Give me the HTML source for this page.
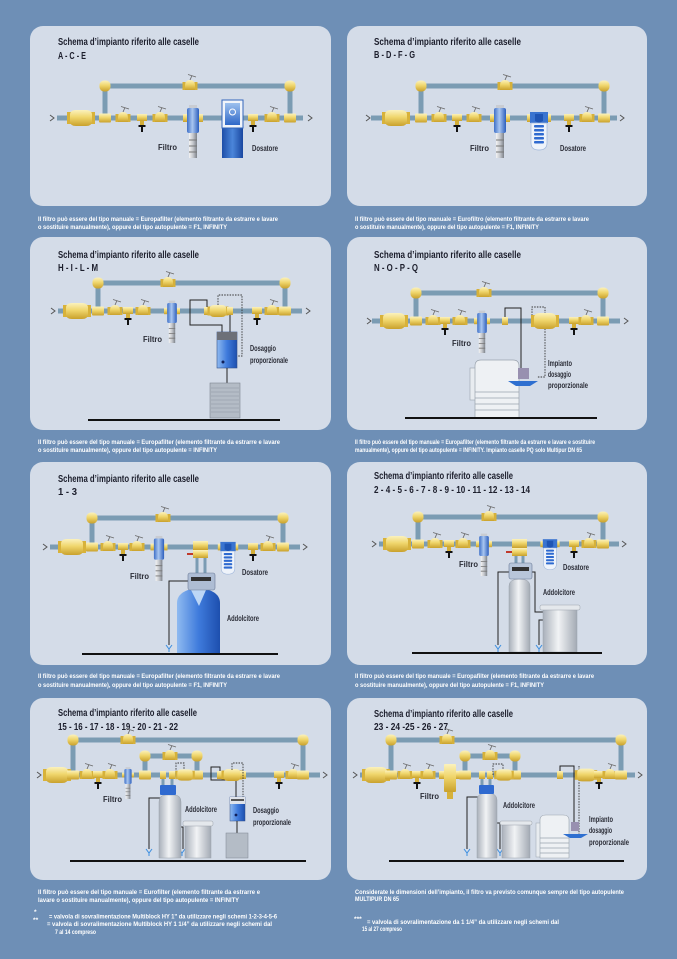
<!DOCTYPE html>
<html><head><meta charset="utf-8">
<style>
html,body{margin:0;padding:0;background:#6e8fb6;}
svg{display:block;}
.t{font-family:"Liberation Sans Narrow","Liberation Sans",sans-serif;font-weight:bold;fill:#1c1e2c;font-size:10.5px;}
.l{font-family:"Liberation Sans Narrow","Liberation Sans",sans-serif;font-weight:bold;fill:#2a2c36;font-size:8px;}
.c{font-family:"Liberation Sans Narrow","Liberation Sans",sans-serif;font-weight:bold;fill:#ffffff;font-size:6.6px;}
.p{stroke:#7b9cb3;stroke-width:5;fill:none;}
.p3{stroke:#7b9cb3;stroke-width:3;fill:none;}
.w{stroke:#222;stroke-width:1;fill:none;}
.d{stroke:#333;stroke-width:0.9;stroke-dasharray:1.5 1.2;fill:none;}
.a{stroke:#555;stroke-width:1;fill:none;}
.f{stroke:#111;stroke-width:2;}
.pn{fill:#d4dce8;}
</style></head><body>
<svg width="677" height="959" viewBox="0 0 677 959" xmlns="http://www.w3.org/2000/svg">
<defs>
<linearGradient id="yg" x1="0" y1="0" x2="0" y2="1">
 <stop offset="0" stop-color="#fbf2bd"/><stop offset="0.45" stop-color="#f0d66c"/><stop offset="1" stop-color="#c9a12c"/>
</linearGradient>
<linearGradient id="bl" x1="0" y1="0" x2="1" y2="0">
 <stop offset="0" stop-color="#3f70c8"/><stop offset="0.45" stop-color="#a9c6f0"/><stop offset="1" stop-color="#2d5fbd"/>
</linearGradient>
<linearGradient id="gg" x1="0" y1="0" x2="1" y2="0">
 <stop offset="0" stop-color="#f4f4f4"/><stop offset="0.5" stop-color="#c4c7cc"/><stop offset="1" stop-color="#7d828a"/>
</linearGradient>
<linearGradient id="sb" x1="0" y1="0" x2="1" y2="0">
 <stop offset="0" stop-color="#8fbaf0"/><stop offset="0.5" stop-color="#3f7bdc"/><stop offset="1" stop-color="#1d4fae"/>
</linearGradient>
<linearGradient id="sg" x1="0" y1="0" x2="1" y2="0">
 <stop offset="0" stop-color="#a9b0ba"/><stop offset="0.45" stop-color="#f1f3f5"/><stop offset="1" stop-color="#a3aab4"/>
</linearGradient>
<linearGradient id="db" x1="0" y1="0" x2="1" y2="0">
 <stop offset="0" stop-color="#1e4ea8"/><stop offset="0.5" stop-color="#4b86da"/><stop offset="1" stop-color="#1a47a0"/>
</linearGradient>
<linearGradient id="lb" x1="0" y1="0" x2="0" y2="1">
 <stop offset="0" stop-color="#9cc0ee"/><stop offset="1" stop-color="#2f68c8"/>
</linearGradient>

<g id="arr"><path d="M-2,-3 L2,0 L-2,3" class="a"/></g>
<g id="meter">
 <rect x="-14" y="-6" width="4" height="12" fill="#d8b23a"/>
 <rect x="10" y="-6" width="4" height="12" fill="#d8b23a"/>
 <path d="M-11,-3 Q-11,-8 -5,-8 H5 Q11,-8 11,-3 V3 Q11,8 5,8 H-5 Q-11,8 -11,3 Z" fill="url(#yg)"/>
</g>
<g id="tee"><rect x="-6" y="-4.5" width="12" height="9" rx="1" fill="url(#yg)"/></g>
<g id="elb"><rect x="-5.5" y="-5.5" width="11" height="11" rx="4.5" fill="url(#yg)"/></g>
<g id="fit"><rect x="-3" y="-4" width="6" height="8" fill="url(#yg)"/></g>
<g id="teed">
 <rect x="-5" y="-4" width="10" height="7" fill="url(#yg)"/>
 <rect x="-2" y="3" width="4" height="4" fill="#d3ae38"/>
 <rect x="-3.5" y="7" width="7" height="2" fill="#111"/>
 <rect x="-1" y="8" width="2" height="6" fill="#111"/>
</g>
<g id="valve">
 <rect x="-7.5" y="-4" width="3" height="8" fill="#d6b13a"/>
 <rect x="4.5" y="-4" width="3" height="8" fill="#d6b13a"/>
 <path d="M-5,4 V0 Q-5,-6 0,-6 Q5,-6 5,0 V4 Z" fill="url(#yg)"/>
 <path d="M0,-6 L2,-10.5 M-2,-11.5 L6,-9" stroke="#6b6b6b" stroke-width="0.9" fill="none"/>
</g>
<g id="filt">
 <rect x="-10" y="-4" width="4" height="8" fill="url(#yg)"/>
 <rect x="6" y="-4" width="4" height="8" fill="url(#yg)"/>
 <rect x="-4" y="-13" width="8" height="4" fill="#c9ccd2"/>
 <rect x="-6" y="-10" width="12" height="25" rx="2" fill="url(#bl)"/>
 <rect x="-4" y="15" width="8" height="25" fill="url(#gg)"/>
 <path d="M-4,22 H4 M-4,28 H4 M-4,34 H4" stroke="#777" stroke-width="1"/>
</g>
<g id="cart">
 <rect x="-12" y="-4" width="4" height="8" fill="url(#yg)"/>
 <rect x="8" y="-4" width="4" height="8" fill="url(#yg)"/>
 <rect x="-9" y="-6" width="18" height="11" fill="#3a74d0"/>
 <path d="M-4,-4 V3 L0,5 L4,3 V-4 Z" fill="#1f55b4"/>
 <path d="M-8,5 H8 V25 Q8,32 0,32 Q-8,32 -8,25 Z" fill="#eef3fa" stroke="#9fb6da" stroke-width="0.7"/>
 <g fill="#2e6ad0">
  <rect x="-5" y="7" width="10" height="2.5" rx="1"/>
  <rect x="-5" y="11" width="10" height="2.5" rx="1"/>
  <rect x="-5" y="15" width="10" height="2.5" rx="1"/>
  <rect x="-5" y="19" width="10" height="2.5" rx="1"/>
  <rect x="-5" y="23" width="10" height="2.5" rx="1"/>
 </g>
</g>
<g id="yd"><path d="M-3,-3 L0,1 L3,-3 M0,1 V4" stroke="#3b8ee0" stroke-width="1" fill="none"/></g>
</defs>

<rect width="677" height="959" fill="#6e8fb6"/>

<!-- ================= PANEL 1 ================= -->
<rect class="pn" x="30" y="26" width="301" height="180" rx="13"/>
<text class="t" x="58" y="45" textLength="141" lengthAdjust="spacingAndGlyphs">Schema d’impianto riferito alle caselle</text>
<text class="t" x="58" y="59" textLength="28" lengthAdjust="spacingAndGlyphs">A - C - E</text>
<use href="#arr" x="52" y="118"/><use href="#arr" x="310" y="118"/>
<path class="p" d="M57,118 H303 M105,118 V86 H290 V118"/>
<use href="#elb" x="105" y="86"/><use href="#elb" x="290" y="86"/>
<use href="#valve" x="190" y="86"/>
<use href="#meter" x="81" y="118"/>
<use href="#tee" x="105" y="118"/>
<use href="#valve" x="123" y="118"/>
<use href="#teed" x="142" y="118"/>
<use href="#valve" x="160" y="118"/>
<use href="#filt" x="193" y="118"/>
<rect x="222" y="128" width="21" height="30" fill="url(#db)"/>
<rect x="222" y="100" width="21" height="28" fill="#f0f4fa" stroke="#3366bb" stroke-width="1"/>
<rect x="225" y="103" width="15" height="22" fill="url(#lb)"/>
<circle cx="232.5" cy="112" r="3" fill="none" stroke="#fff" stroke-width="1"/>
<use href="#teed" x="253" y="118"/>
<use href="#valve" x="272" y="118"/>
<use href="#tee" x="290" y="118"/>
<text class="l" x="158" y="150" textLength="19" lengthAdjust="spacingAndGlyphs">Filtro</text>
<text class="l" x="252" y="151" textLength="26" lengthAdjust="spacingAndGlyphs">Dosatore</text>

<!-- ================= PANEL 2 ================= -->
<rect class="pn" x="347" y="26" width="300" height="180" rx="13"/>
<text class="t" x="374" y="45" textLength="147" lengthAdjust="spacingAndGlyphs">Schema d’impianto riferito alle caselle</text>
<text class="t" x="374" y="58" textLength="41" lengthAdjust="spacingAndGlyphs">B - D - F - G</text>
<use href="#arr" x="368" y="118"/><use href="#arr" x="622" y="118"/>
<path class="p" d="M371,118 H617 M421,118 V86 H604 V118"/>
<use href="#elb" x="421" y="86"/><use href="#elb" x="604" y="86"/>
<use href="#valve" x="505" y="86"/>
<use href="#meter" x="396" y="118"/>
<use href="#tee" x="421" y="118"/>
<use href="#valve" x="439" y="118"/>
<use href="#teed" x="457" y="118"/>
<use href="#valve" x="474" y="118"/>
<use href="#filt" x="500" y="118"/>
<use href="#cart" x="539" y="118"/>
<use href="#teed" x="569" y="118"/>
<use href="#valve" x="587" y="118"/>
<use href="#tee" x="604" y="118"/>
<text class="l" x="470" y="151" textLength="19" lengthAdjust="spacingAndGlyphs">Filtro</text>
<text class="l" x="560" y="151" textLength="26" lengthAdjust="spacingAndGlyphs">Dosatore</text>

<!-- ================= PANEL 3 ================= -->
<rect class="pn" x="30" y="237" width="301" height="193" rx="13"/>
<text class="t" x="58" y="258" textLength="141" lengthAdjust="spacingAndGlyphs">Schema d’impianto riferito alle caselle</text>
<text class="t" x="58" y="271" textLength="40" lengthAdjust="spacingAndGlyphs">H - I - L - M</text>
<use href="#arr" x="53" y="311"/><use href="#arr" x="308" y="311"/>
<path class="p" d="M58,311 H302 M98,311 V283 H285 V311"/>
<use href="#elb" x="98" y="283"/><use href="#elb" x="285" y="283"/>
<use href="#valve" x="168" y="283"/>
<use href="#meter" x="77" y="311"/>
<use href="#tee" x="98" y="311"/>
<use href="#valve" x="115" y="311"/>
<use href="#teed" x="128" y="311"/>
<use href="#valve" x="143" y="311"/>
<use href="#filt" transform="translate(172,311) scale(0.8)"/>
<path class="w" d="M207,311 V300 H190 V325 H222 V332"/>
<path class="w" d="M230,311 V332"/>
<path class="d" d="M218,305 V295 H242 V356 H237"/>
<use href="#fit" x="207" y="311"/>
<use href="#meter" transform="translate(218,311) scale(0.75)"/>
<use href="#fit" x="230" y="311"/>
<use href="#teed" x="257" y="311"/>
<use href="#valve" x="272" y="311"/>
<use href="#tee" x="285" y="311"/>
<rect x="217" y="332" width="20" height="36" fill="url(#sb)" stroke="#33508a" stroke-width="0.6"/>
<rect x="217" y="332" width="20" height="8" fill="#6d7078"/>
<circle cx="223" cy="362" r="1.5" fill="#10205a"/>
<path class="w" d="M227,368 V383"/>
<rect x="210" y="383" width="30" height="35" fill="#b4bcc6" stroke="#7d8592" stroke-width="0.6"/>
<path d="M211,388 H239 M211,392 H239 M211,396 H239 M211,400 H239 M211,404 H239 M211,408 H239 M211,412 H239" stroke="#98a2ae" stroke-width="0.7"/>
<line class="f" x1="88" y1="420" x2="280" y2="420"/>
<text class="l" x="143" y="342" textLength="19" lengthAdjust="spacingAndGlyphs">Filtro</text>
<text class="l" x="250" y="351" textLength="26" lengthAdjust="spacingAndGlyphs">Dosaggio</text>
<text class="l" x="250" y="363" textLength="38" lengthAdjust="spacingAndGlyphs">proporzionale</text>

<!-- ================= PANEL 4 ================= -->
<rect class="pn" x="347" y="237" width="300" height="193" rx="13"/>
<text class="t" x="374" y="258" textLength="147" lengthAdjust="spacingAndGlyphs">Schema d’impianto riferito alle caselle</text>
<text class="t" x="374" y="271" textLength="44" lengthAdjust="spacingAndGlyphs">N - O - P - Q</text>
<use href="#arr" x="369" y="321"/><use href="#arr" x="626" y="321"/>
<path class="p" d="M372,321 H620 M416,321 V293 H603 V321"/>
<use href="#elb" x="416" y="293"/><use href="#elb" x="603" y="293"/>
<use href="#valve" x="484" y="293"/>
<use href="#meter" x="394" y="321"/>
<use href="#tee" x="416" y="321"/>
<use href="#valve" x="433" y="321"/>
<use href="#teed" x="445" y="321"/>
<use href="#valve" x="460" y="321"/>
<use href="#filt" transform="translate(482,321) scale(0.8)"/>
<path class="w" d="M505,321 V308 H521 V370"/>
<path class="d" d="M532,321 V307 H545 V377 H537"/>
<use href="#fit" x="505" y="321"/>
<use href="#meter" x="545" y="321"/>
<use href="#teed" x="574" y="321"/>
<use href="#valve" x="586" y="321"/>
<use href="#tee" x="603" y="321"/>
<rect x="470" y="368" width="6" height="32" fill="#e8ecf0" stroke="#9aa3ad" stroke-width="0.6"/>
<path d="M475,418 V366 Q475,360 481,360 H513 Q519,360 519,366 V418 Z" fill="#eef1f4" stroke="#9aa3ad" stroke-width="0.7"/>
<path d="M475,392 H519 M475,398 H519 M475,404 H519 M475,410 H519" stroke="#9aa3ad" stroke-width="0.8"/>
<rect x="518" y="368" width="11" height="11" fill="#9890b0"/>
<path d="M508,381 H538 L530,386 H516 Z" fill="#2e6fd0"/>
<line class="f" x1="405" y1="418" x2="597" y2="418"/>
<text class="l" x="452" y="346" textLength="19" lengthAdjust="spacingAndGlyphs">Filtro</text>
<text class="l" x="548" y="366" textLength="24" lengthAdjust="spacingAndGlyphs">Impianto</text>
<text class="l" x="548" y="377" textLength="23" lengthAdjust="spacingAndGlyphs">dosaggio</text>
<text class="l" x="548" y="388" textLength="40" lengthAdjust="spacingAndGlyphs">proporzionale</text>

<!-- ================= PANEL 5 ================= -->
<rect class="pn" x="30" y="462" width="301" height="203" rx="13"/>
<text class="t" x="58" y="482" textLength="141" lengthAdjust="spacingAndGlyphs">Schema d’impianto riferito alle caselle</text>
<text class="t" x="58" y="495" textLength="19" lengthAdjust="spacingAndGlyphs">1 - 3</text>
<use href="#arr" x="45" y="547"/><use href="#arr" x="305" y="547"/>
<path class="p" d="M50,547 H300 M92,547 V518 H283 V547"/>
<use href="#elb" x="92" y="518"/><use href="#elb" x="283" y="518"/>
<use href="#valve" x="163" y="518"/>
<use href="#meter" x="72" y="547"/>
<use href="#tee" x="92" y="547"/>
<use href="#valve" x="108" y="547"/>
<use href="#teed" x="123" y="547"/>
<use href="#valve" x="137" y="547"/>
<use href="#filt" transform="translate(159,547) scale(0.85)"/>
<path class="p3" d="M197,555 V574 M205,555 V574"/>
<rect x="193" y="541" width="15" height="9" fill="url(#yg)"/>
<rect x="193" y="550" width="15" height="8" fill="url(#yg)"/>
<path d="M193,554 H187" stroke="#c0392b" stroke-width="2"/>
<path class="w" d="M188,581 H169 V645"/>
<use href="#yd" x="169" y="648"/>
<path d="M177,653 V603 Q177,594 188,590 H209 Q220,594 220,603 V653 Z" fill="url(#sb)"/>
<path d="M191,590 L199,606 L206,590 Z" fill="#bcd6f6"/>
<rect x="188" y="573" width="27" height="17" rx="2" fill="#aebdd4" stroke="#6a7a96" stroke-width="0.6"/>
<rect x="191" y="577" width="20" height="4" fill="#333"/>
<use href="#cart" transform="translate(228,547) scale(0.85)"/>
<use href="#teed" x="253" y="547"/>
<use href="#valve" x="268" y="547"/>
<use href="#tee" x="283" y="547"/>
<line class="f" x1="82" y1="654" x2="278" y2="654"/>
<text class="l" x="130" y="579" textLength="19" lengthAdjust="spacingAndGlyphs">Filtro</text>
<text class="l" x="242" y="575" textLength="26" lengthAdjust="spacingAndGlyphs">Dosatore</text>
<text class="l" x="227" y="621" textLength="32" lengthAdjust="spacingAndGlyphs">Addolcitore</text>

<!-- ================= PANEL 6 ================= -->
<rect class="pn" x="347" y="462" width="300" height="203" rx="13"/>
<text class="t" x="374" y="479" textLength="139" lengthAdjust="spacingAndGlyphs">Schema d’impianto riferito alle caselle</text>
<text class="t" x="374" y="493" textLength="156" lengthAdjust="spacingAndGlyphs">2 - 4 - 5 - 6 - 7 - 8 - 9 - 10 - 11 - 12 - 13 - 14</text>
<use href="#arr" x="374" y="544"/><use href="#arr" x="624" y="544"/>
<path class="p" d="M379,544 H619 M418,544 V517 H603 V544"/>
<use href="#elb" x="418" y="517"/><use href="#elb" x="603" y="517"/>
<use href="#valve" x="489" y="517"/>
<use href="#meter" x="397" y="544"/>
<use href="#tee" x="418" y="544"/>
<use href="#valve" x="435" y="544"/>
<use href="#teed" x="449" y="544"/>
<use href="#valve" x="463" y="544"/>
<use href="#filt" transform="translate(484,544) scale(0.8)"/>
<path class="p3" d="M516,552 V564 M523,552 V564"/>
<rect x="512" y="539" width="15" height="9" fill="url(#yg)"/>
<rect x="512" y="548" width="15" height="8" fill="url(#yg)"/>
<path d="M512,552 H506" stroke="#c0392b" stroke-width="2"/>
<path class="w" d="M509,572 H498 V645"/>
<use href="#yd" x="498" y="648"/>
<path class="w" d="M532,572 H535 V612 H543"/>
<path class="w" d="M543,620 H539 V645"/>
<use href="#yd" x="539" y="648"/>
<path d="M509,652 V586 Q509,579 519.5,579 Q530,579 530,586 V652 Z" fill="url(#sg)" stroke="#9aa2ac" stroke-width="0.5"/>
<rect x="509" y="563" width="23" height="16" rx="2" fill="#b8c6da" stroke="#6a7a96" stroke-width="0.6"/>
<rect x="512" y="567" width="17" height="4" fill="#333"/>
<rect x="543" y="609" width="34" height="43" fill="url(#sg)" stroke="#9aa2ac" stroke-width="0.5"/>
<rect x="540" y="605" width="40" height="5" rx="1.5" fill="#e4e8ec" stroke="#9aa2ac" stroke-width="0.5"/>
<use href="#cart" transform="translate(550,544) scale(0.8)"/>
<use href="#teed" x="574" y="544"/>
<use href="#valve" x="589" y="544"/>
<use href="#tee" x="603" y="544"/>
<line class="f" x1="412" y1="653" x2="602" y2="653"/>
<text class="l" x="459" y="567" textLength="19" lengthAdjust="spacingAndGlyphs">Filtro</text>
<text class="l" x="563" y="570" textLength="26" lengthAdjust="spacingAndGlyphs">Dosatore</text>
<text class="l" x="543" y="595" textLength="32" lengthAdjust="spacingAndGlyphs">Addolcitore</text>

<!-- ================= PANEL 7 ================= -->
<rect class="pn" x="30" y="698" width="301" height="182" rx="13"/>
<text class="t" x="58" y="716" textLength="139" lengthAdjust="spacingAndGlyphs">Schema d’impianto riferito alle caselle</text>
<text class="t" x="58" y="730" textLength="120" lengthAdjust="spacingAndGlyphs">15 - 16 - 17 - 18 - 19 - 20 - 21 - 22</text>
<use href="#arr" x="39" y="775"/><use href="#arr" x="325" y="775"/>
<path class="p" d="M44,775 H320 M73,775 V740 H303 V775 M145,775 V756 H197 V775"/>
<use href="#elb" x="73" y="740"/><use href="#elb" x="303" y="740"/>
<use href="#elb" x="145" y="756"/><use href="#elb" x="197" y="756"/>
<use href="#valve" x="128" y="740"/>
<use href="#valve" x="170" y="756"/>
<use href="#meter" x="57" y="775"/>
<use href="#tee" x="73" y="775"/>
<use href="#valve" x="87" y="775"/>
<use href="#teed" x="98" y="775"/>
<use href="#valve" x="110" y="775"/>
<use href="#filt" transform="translate(128,775) scale(0.6)"/>
<use href="#tee" x="145" y="775"/><use href="#tee" x="197" y="775"/>
<path class="p3" d="M163,775 V786 M172,775 V786"/>
<use href="#fit" x="163" y="775"/><use href="#fit" x="172" y="775"/>
<path class="d" d="M176,775 V763 H184 V770"/>
<use href="#meter" transform="translate(185,775) scale(0.7)"/>
<path class="w" d="M160,798 H149 V849"/>
<use href="#yd" x="149" y="852"/>
<path class="w" d="M181,827 H183 V849"/>
<use href="#yd" x="182" y="852"/>
<path d="M159,858 V802 Q159,795 166,795 H174 Q181,795 181,802 V858 Z" fill="url(#sg)" stroke="#9aa2ac" stroke-width="0.5"/>
<rect x="160" y="785" width="16" height="10" rx="1" fill="#2f6ad0"/>
<rect x="185" y="825" width="26" height="33" fill="url(#sg)" stroke="#9aa2ac" stroke-width="0.5"/>
<rect x="183" y="821" width="30" height="5" rx="1.5" fill="#e4e8ec" stroke="#9aa2ac" stroke-width="0.5"/>
<path class="w" d="M220,775 V767 H211 V780 H236 V797"/>
<use href="#fit" x="220" y="775"/>
<use href="#meter" transform="translate(232,775) scale(0.75)"/>
<use href="#fit" x="243" y="775"/>
<path class="d" d="M232,770 V763 H243 V797"/>
<rect x="230" y="797" width="15" height="24" fill="url(#sb)" stroke="#33508a" stroke-width="0.5"/>
<rect x="230" y="797" width="15" height="7" fill="#dfe3ea"/>
<rect x="231" y="799" width="13" height="2" fill="#555"/>
<circle cx="236" cy="815" r="1.4" fill="#10205a"/>
<path class="w" d="M237,821 V833"/>
<rect x="226" y="833" width="22" height="25" fill="#b4bcc6" stroke="#7d8592" stroke-width="0.5"/>
<use href="#teed" x="279" y="775"/>
<use href="#valve" x="293" y="775"/>
<use href="#tee" x="303" y="775"/>
<line class="f" x1="70" y1="861" x2="306" y2="861"/>
<text class="l" x="103" y="802" textLength="19" lengthAdjust="spacingAndGlyphs">Filtro</text>
<text class="l" x="185" y="812" textLength="32" lengthAdjust="spacingAndGlyphs">Addolcitore</text>
<text class="l" x="253" y="813" textLength="26" lengthAdjust="spacingAndGlyphs">Dosaggio</text>
<text class="l" x="253" y="825" textLength="38" lengthAdjust="spacingAndGlyphs">proporzionale</text>

<!-- ================= PANEL 8 ================= -->
<rect class="pn" x="347" y="698" width="300" height="182" rx="13"/>
<text class="t" x="374" y="717" textLength="139" lengthAdjust="spacingAndGlyphs">Schema d’impianto riferito alle caselle</text>
<text class="t" x="374" y="730" textLength="74" lengthAdjust="spacingAndGlyphs">23 - 24 -25 - 26 - 27</text>
<use href="#arr" x="355" y="775"/><use href="#arr" x="640" y="775"/>
<path class="p" d="M360,775 H635 M391,775 V740 H621 V775 M465,775 V756 H515 V775"/>
<use href="#elb" x="391" y="740"/><use href="#elb" x="621" y="740"/>
<use href="#elb" x="465" y="756"/><use href="#elb" x="515" y="756"/>
<use href="#valve" x="447" y="740"/>
<use href="#valve" x="490" y="756"/>
<use href="#meter" x="376" y="775"/>
<use href="#tee" x="391" y="775"/>
<use href="#valve" x="405" y="775"/>
<use href="#teed" x="417" y="775"/>
<use href="#valve" x="428" y="775"/>
<rect x="439" y="771" width="22" height="8" fill="url(#yg)"/>
<rect x="444" y="764" width="12" height="28" rx="1" fill="url(#yg)"/>
<rect x="447" y="792" width="6" height="7" fill="#d6b13a"/>
<use href="#tee" x="465" y="775"/><use href="#tee" x="515" y="775"/>
<path class="p3" d="M482,775 V786 M490,775 V786"/>
<use href="#fit" x="482" y="775"/><use href="#fit" x="490" y="775"/>
<path class="d" d="M493,775 V764 H503 V770"/>
<use href="#meter" transform="translate(504,775) scale(0.7)"/>
<path class="w" d="M479,797 H467 V849"/>
<use href="#yd" x="467" y="852"/>
<path class="w" d="M497,823 H500 V849"/>
<use href="#yd" x="500" y="852"/>
<path d="M477,858 V800 Q477,793 487,793 Q497,793 497,800 V858 Z" fill="url(#sg)" stroke="#9aa2ac" stroke-width="0.5"/>
<rect x="479" y="785" width="15" height="9" rx="1" fill="#2f6ad0"/>
<rect x="502" y="824" width="28" height="34" fill="url(#sg)" stroke="#9aa2ac" stroke-width="0.5"/>
<rect x="500" y="821" width="32" height="4" rx="1.5" fill="#e4e8ec" stroke="#9aa2ac" stroke-width="0.5"/>
<path class="w" d="M560,775 V766 H574 V823"/>
<path class="d" d="M579,770 V766 M579,766 V838"/>
<use href="#fit" x="560" y="775"/>
<use href="#meter" transform="translate(586,775) scale(0.8)"/>
<use href="#teed" x="599" y="775"/>
<use href="#valve" x="610" y="775"/>
<use href="#tee" x="621" y="775"/>
<rect x="536" y="823" width="5" height="34" fill="#e8ecf0" stroke="#9aa3ad" stroke-width="0.5"/>
<path d="M540,858 V820 Q540,815 546,815 H563 Q569,815 569,820 V858 Z" fill="#eef1f4" stroke="#9aa3ad" stroke-width="0.6"/>
<path d="M540,838 H569 M540,843 H569 M540,848 H569 M540,853 H569" stroke="#9aa3ad" stroke-width="0.7"/>
<rect x="571" y="822" width="8" height="9" fill="#9890b0"/>
<path d="M563,834 H588 L581,838 H570 Z" fill="#2e6fd0"/>
<line class="f" x1="389" y1="861" x2="624" y2="861"/>
<text class="l" x="420" y="799" textLength="19" lengthAdjust="spacingAndGlyphs">Filtro</text>
<text class="l" x="503" y="808" textLength="32" lengthAdjust="spacingAndGlyphs">Addolcitore</text>
<text class="l" x="589" y="822" textLength="24" lengthAdjust="spacingAndGlyphs">Impianto</text>
<text class="l" x="589" y="833" textLength="23" lengthAdjust="spacingAndGlyphs">dosaggio</text>
<text class="l" x="589" y="845" textLength="40" lengthAdjust="spacingAndGlyphs">proporzionale</text>

<!-- ================= CAPTIONS ================= -->
<text class="c" x="38" y="221" textLength="240" lengthAdjust="spacingAndGlyphs">Il filtro può essere del tipo manuale = Europafilter (elemento filtrante da estrarre e lavare</text>
<text class="c" x="38" y="229" textLength="189" lengthAdjust="spacingAndGlyphs">o sostituire manualmente), oppure del tipo autopulente = F1, INFINITY</text>
<text class="c" x="355" y="221" textLength="234" lengthAdjust="spacingAndGlyphs">Il filtro può essere del tipo manuale = Eurofiltro (elemento filtrante da estrarre e lavare</text>
<text class="c" x="355" y="229" textLength="184" lengthAdjust="spacingAndGlyphs">o sostituire manualmente), oppure del tipo autopulente = F1, INFINITY</text>

<text class="c" x="38" y="444" textLength="242" lengthAdjust="spacingAndGlyphs">Il filtro può essere del tipo manuale = Europafilter (elemento filtrante da estrarre e lavare</text>
<text class="c" x="38" y="452" textLength="179" lengthAdjust="spacingAndGlyphs">o sostituire manualmente), oppure del tipo autopulente = INFINITY</text>
<text class="c" x="355" y="444" textLength="240" lengthAdjust="spacingAndGlyphs">Il filtro può essere del tipo manuale = Europafilter (elemento filtrante da estrarre e lavare e sostituire</text>
<text class="c" x="355" y="452" textLength="227" lengthAdjust="spacingAndGlyphs">manualmente), oppure del tipo autopulente = INFINITY. Impianto caselle PQ solo Multipur DN 65</text>

<text class="c" x="38" y="678" textLength="242" lengthAdjust="spacingAndGlyphs">Il filtro può essere del tipo manuale = Europafilter (elemento filtrante da estrarre e lavare</text>
<text class="c" x="38" y="687" textLength="189" lengthAdjust="spacingAndGlyphs">o sostituire manualmente), oppure del tipo autopulente = F1, INFINITY</text>
<text class="c" x="355" y="678" textLength="239" lengthAdjust="spacingAndGlyphs">Il filtro può essere del tipo manuale = Europafilter (elemento filtrante da estrarre e lavare</text>
<text class="c" x="355" y="687" textLength="189" lengthAdjust="spacingAndGlyphs">o sostituire manualmente), oppure del tipo autopulente = F1, INFINITY</text>

<text class="c" x="38" y="894" textLength="222" lengthAdjust="spacingAndGlyphs">Il filtro può essere del tipo manuale = Eurofilter (elemento filtrante da estrarre e</text>
<text class="c" x="38" y="902" textLength="201" lengthAdjust="spacingAndGlyphs">lavare o sostituire manualmente), oppure del tipo autopulente = INFINITY</text>
<text class="c" x="34" y="914">*</text>
<text class="c" x="49" y="918.5" textLength="228" lengthAdjust="spacingAndGlyphs">= valvola di sovralimentazione Multiblock HY 1” da utilizzare negli schemi 1-2-3-4-5-6</text>
<text class="c" x="33" y="922">**</text>
<text class="c" x="47" y="926" textLength="225" lengthAdjust="spacingAndGlyphs">= valvola di sovralimentazione Multiblock HY 1 1/4” da utilizzare negli schemi dal</text>
<text class="c" x="55" y="934" textLength="41" lengthAdjust="spacingAndGlyphs">7 al 14 compreso</text>

<text class="c" x="355" y="894" textLength="269" lengthAdjust="spacingAndGlyphs">Considerate le dimensioni dell’impianto, il filtro va previsto comunque sempre del tipo autopulente</text>
<text class="c" x="355" y="901" textLength="44" lengthAdjust="spacingAndGlyphs">MULTIPUR DN 65</text>
<text class="c" x="354" y="921">***</text>
<text class="c" x="367" y="924" textLength="192" lengthAdjust="spacingAndGlyphs">= valvola di sovralimentazione da 1 1/4” da utilizzare negli schemi dal</text>
<text class="c" x="362" y="931" textLength="40" lengthAdjust="spacingAndGlyphs">15 al 27 compreso</text>
</svg>
</body></html>
